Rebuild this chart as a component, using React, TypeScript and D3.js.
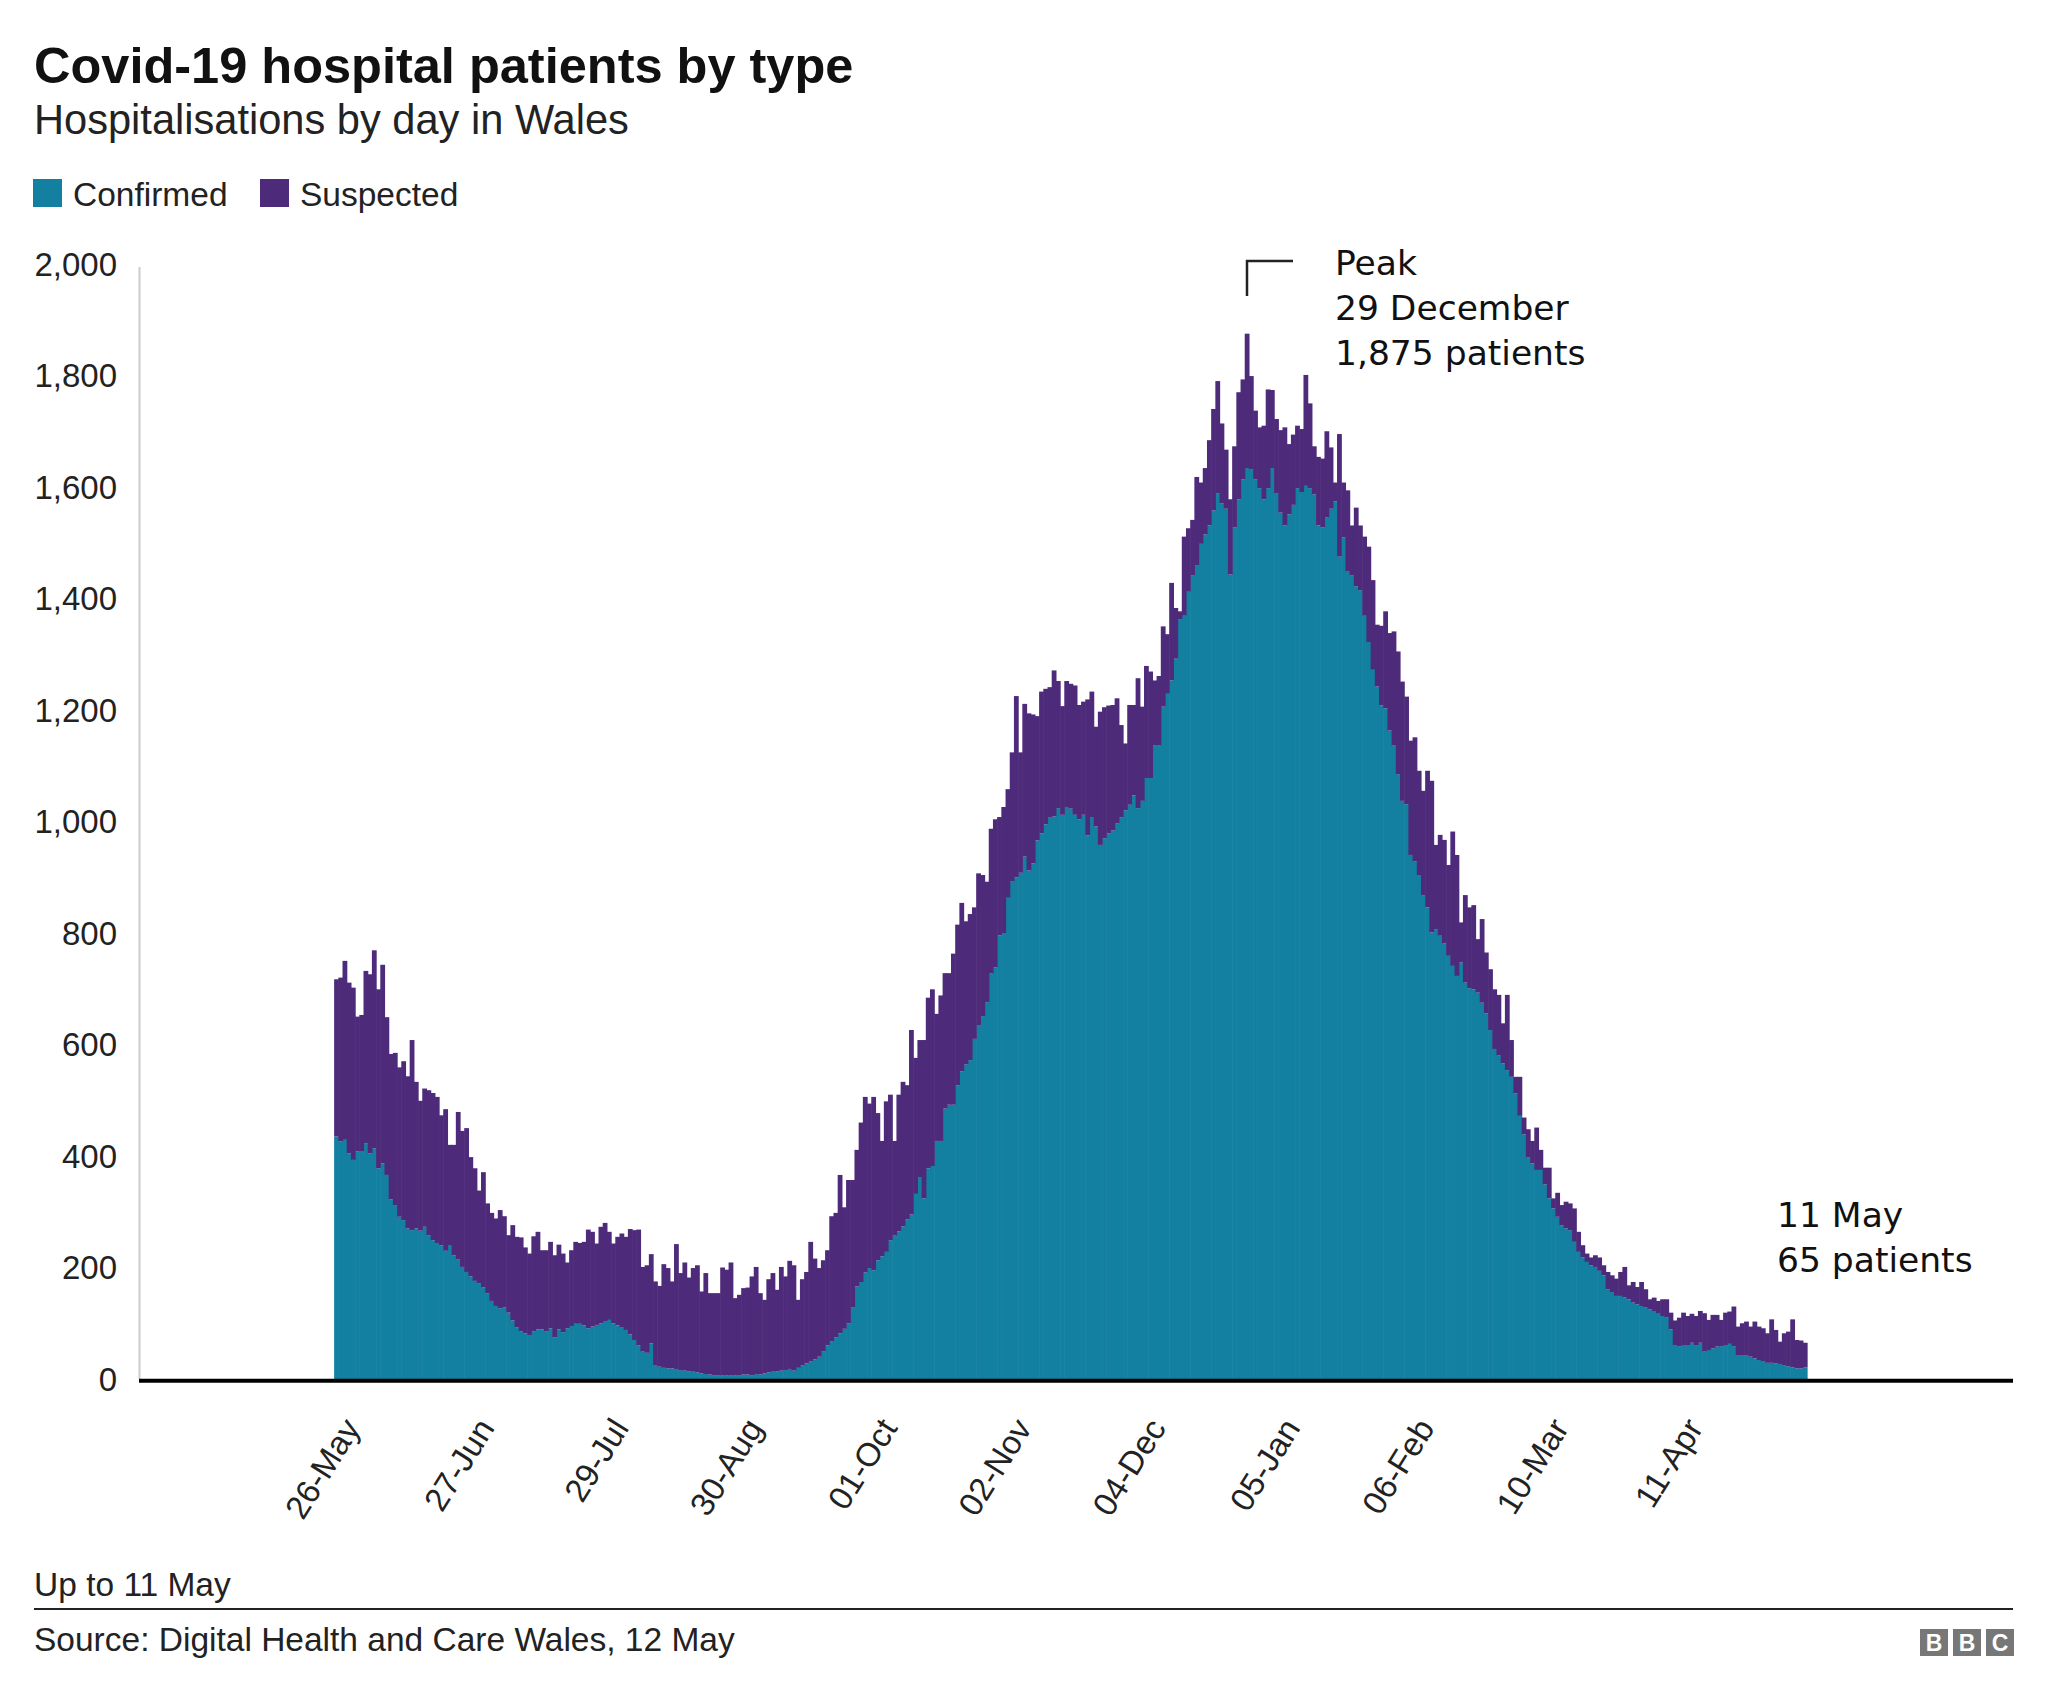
import React from 'react';
import * as d3 from 'd3';

// ---- DATA ----
const firstDay = new Date(2020, 4, 26); // 26 May 2020, one bar per day until 11 May 2021

const totalPatients: number[] = [
  717, 720, 750, 711, 702, 650, 653, 732, 726, 769,
  699, 743, 649, 583, 585, 559, 570, 543, 608, 533,
  499, 521, 518, 513, 506, 473, 484, 420, 420, 479,
  445, 450, 398, 378, 338, 371, 315, 298, 288, 303,
  292, 258, 276, 255, 254, 236, 225, 256, 264, 231,
  231, 246, 222, 241, 225, 209, 231, 246, 244, 246,
  268,
  264, 243, 273, 280, 264, 243, 255, 261, 255, 269,
  267, 268, 201, 204, 224, 175, 167, 206, 199, 175,
  242, 190, 209, 182, 199, 204, 157, 190, 154, 154,
  154, 200, 196, 209, 145, 151, 163, 164, 184, 201,
  154, 142, 179, 190, 160, 201, 184, 212, 204, 142,
  179, 192, 246, 216, 199, 213, 231, 292, 298, 366,
  308, 357,
  357, 411, 460, 506,
  494, 506, 477, 427, 498, 510, 427, 510, 533, 527,
  626, 576, 608, 608, 684, 699, 655, 688, 728, 728,
  763, 815, 854, 821, 834, 846, 907, 904, 892, 987,
  1004, 1008, 1026, 1058, 1124, 1225, 1124, 1211, 1194, 1192,
  1189, 1233, 1238, 1241, 1271, 1252, 1207, 1252, 1247, 1244,
  1209, 1215, 1219, 1233, 1170, 1197, 1205, 1208,
  1209, 1221, 1173, 1140, 1209, 1209, 1257, 1206, 1279, 1269,
  1253, 1261, 1350, 1336, 1428, 1383, 1377, 1511, 1526, 1541,
  1618, 1608, 1634, 1684, 1740, 1790, 1714, 1667, 1578, 1673,
  1770, 1793, 1875, 1799, 1737, 1707, 1710, 1775, 1774, 1722,
  1702, 1707, 1677, 1694, 1710, 1704, 1801, 1750, 1673, 1654,
  1651, 1700, 1671, 1608, 1695, 1608, 1594, 1531, 1563, 1531,
  1511, 1493,
  1433, 1353, 1351, 1377, 1338, 1341, 1305, 1251, 1224, 1145,
  1151, 1091, 1055, 1091, 1073, 958, 976, 967, 922, 982,
  940, 819, 868, 846, 850, 789, 825, 765, 735, 699,
  689, 638, 689, 608, 542, 542, 469, 448, 427, 451,
  411, 379, 379, 324, 334, 312, 318, 315, 306, 264,
  240, 225, 218, 222, 218, 204, 192, 186, 180, 192,
  201, 168, 174, 165, 174, 161, 143, 146, 140, 143,
  143, 119, 105, 110, 119, 113, 117, 113, 122,
  118, 106, 115, 115, 106, 119, 121, 130, 94, 100,
  103, 94, 103, 94, 91, 82, 107, 88, 67, 82,
  85, 107, 70, 69, 65,
];

const confirmedPatients: number[] = [
  435, 426, 429, 405, 393, 408, 409, 423, 405, 414,
  378, 387, 366, 322, 312, 291, 285, 270, 267, 270,
  266, 273, 258, 249, 244, 240, 230, 239, 222, 215,
  201, 192, 184, 176, 172, 164, 154, 140, 131, 127,
  128, 119, 105, 93, 85, 82, 79, 85, 89, 89,
  85, 91, 75, 89, 84, 91, 95, 99, 99, 96,
  91,
  94, 97, 100, 104, 106, 100, 96, 92, 88, 80,
  70, 60, 49, 47, 64, 25, 22, 20, 19, 19,
  18, 16, 15, 14, 13, 12, 10, 9, 8, 7,
  7, 6, 6, 7, 6, 7, 8, 8, 7, 9,
  8, 10, 12, 13, 14, 15, 16, 18, 15, 20,
  24, 28, 32, 35, 40, 50, 60, 67, 75, 82,
  90, 100,
  129, 166, 174, 191, 199, 195, 213, 220, 228, 249,
  257, 265, 274, 286, 295, 332, 361, 324, 378, 382,
  427, 427, 485, 492, 492, 527, 552, 564, 572, 610,
  635, 651, 676, 727, 738, 796, 800, 863, 892, 900,
  908, 937, 912, 925, 966, 979, 995, 1008, 1009, 1024,
  1012, 1026, 1023, 1012, 1004, 1012, 975, 1008, 991, 958,
  970, 979,
  984, 997, 1007, 1020, 1030, 1047, 1024, 1037, 1078, 1078,
  1136, 1136, 1206, 1229, 1253, 1292, 1362, 1369, 1412, 1442,
  1460, 1498, 1515, 1531, 1558, 1588, 1571, 1561, 1443, 1528,
  1578, 1614, 1634, 1631, 1614, 1598, 1578, 1598, 1634, 1588,
  1554, 1531, 1551, 1568, 1598, 1591, 1602, 1598, 1587, 1531,
  1528, 1545, 1561, 1574, 1475, 1510, 1448, 1442, 1422, 1415,
  1369, 1322,
  1272, 1242, 1208, 1203, 1163, 1136, 1085, 1037, 1031, 940,
  928, 904, 868, 846, 801, 807, 795, 781, 759, 741,
  723, 747, 711, 701, 699, 693, 675, 656, 626, 592,
  580, 566, 554, 542, 512, 472, 439, 397, 387, 375,
  375, 349, 324, 306, 291, 276, 270, 267, 246, 228,
  218, 210, 204, 201, 194, 186, 161, 156, 149, 149,
  146, 143, 137, 134, 131, 129, 125, 122, 117, 113,
  110, 89, 61, 59, 61, 61, 65, 61, 65,
  49, 52, 55, 58, 59, 61, 63, 59, 43, 43,
  43, 40, 37, 34, 31, 29, 29, 28, 27, 25,
  23, 21, 19, 19, 21,
];

const tickLabels: string[] = [
  '26-May', '27-Jun', '29-Jul', '30-Aug', '01-Oct', '02-Nov',
  '04-Dec', '05-Jan', '06-Feb', '10-Mar', '11-Apr',
];
const yTicks: number[] = [0, 200, 400, 600, 800, 1000, 1200, 1400, 1600, 1800, 2000];

const seriesKeys = ['confirmed', 'suspected'];
const seriesLabels = ['Confirmed', 'Suspected'];
const seriesColors = ['#1380A1', '#4E2B7A'];

const peakNote = ['Peak', '29 December', '1,875 patients'];
const lastNote = ['11 May', '65 patients'];

// ---- CHART ----
const W = 2048;
const H = 1701;
const plotLeft = 139;
const plotRight = 2013;
const plotBottom = 1379;
const plotTop = 264;
const padBefore = 46.5; // empty days on the axis before the first bar
const padAfter = 49.1;  // empty days after the last bar

const fontMain = "'Liberation Sans', Arial, Helvetica, sans-serif";
const fontNote = "'DejaVu Sans', 'Open Sans', sans-serif";

export default function App() {
  const days = d3.timeDay.range(firstDay, d3.timeDay.offset(firstDay, totalPatients.length));
  const rows = days.map((d, i) => ({
    date: d,
    confirmed: Math.min(confirmedPatients[i], totalPatients[i]),
    suspected: totalPatients[i] - Math.min(confirmedPatients[i], totalPatients[i]),
  }));

  const x = d3
    .scaleTime()
    .domain([d3.timeHour.offset(firstDay, -padBefore * 24), d3.timeHour.offset(firstDay, (days.length + padAfter) * 24)])
    .range([plotLeft, plotRight]);
  const y = d3.scaleLinear().domain([0, 2000]).range([plotBottom, plotTop]);

  const stacked = d3.stack<any>().keys(seriesKeys)(rows);
  const barW = x(d3.timeDay.offset(firstDay, 1)) - x(firstDay);

  const fmt = d3.format(',');
  const labelFmt = d3.timeFormat('%d-%b');
  const tickDates = days.filter((_, i) => i % 32 === 0).filter((d) => tickLabels.includes(labelFmt(d)));

  return (
    <svg width={W} height={H} viewBox={`0 0 ${W} ${H}`} style={{ display: 'block', background: '#fff' }}>
      <style>{'body{margin:0}'}</style>
      <rect x={0} y={0} width={W} height={H} fill="#ffffff" />

      {/* Title */}
      <text x={34} y={83} fontFamily={fontMain} fontWeight="bold" fontSize={50.5} fill="#111111">
        Covid-19 hospital patients by type
      </text>
      <text x={34} y={134} fontFamily={fontMain} fontSize={41.6} fill="#222222">
        Hospitalisations by day in Wales
      </text>

      {/* Legend */}
      <g fontFamily={fontMain} fontSize={33.5} fill="#222222">
        <rect x={33} y={179} width={29} height={28} fill={seriesColors[0]} />
        <text x={73} y={206}>{seriesLabels[0]}</text>
        <rect x={260} y={179} width={29} height={28} fill={seriesColors[1]} />
        <text x={300} y={206}>{seriesLabels[1]}</text>
      </g>

      {/* Y axis */}
      <line x1={139.5} x2={139.5} y1={267} y2={plotBottom} stroke="#cccccc" strokeWidth={2} />
      <g fontFamily={fontMain} fontSize={33} fill="#222222" textAnchor="end">
        {yTicks.map((t) => (
          <text key={t} x={117} y={y(t)} dy="0.35em">
            {fmt(t)}
          </text>
        ))}
      </g>

      {/* Bars */}
      {stacked.map((layer, li) => (
        <g key={layer.key} fill={seriesColors[li]}>
          {layer.map((d, i) => {
            const x0 = x(rows[i].date);
            const top = y(d[1]);
            const h = y(d[0]) - top;
            if (h <= 0) return null;
            return <rect key={i} x={x0} y={top} width={barW + 0.6} height={h} />;
          })}
        </g>
      ))}

      {/* Baseline */}
      <line x1={plotLeft} x2={plotRight} y1={1380.7} y2={1380.7} stroke="#000000" strokeWidth={4} />

      {/* X labels */}
      <g fontFamily={fontMain} fontSize={33} fill="#222222" textAnchor="end">
        {tickDates.map((d, i) => {
          const ax = x(d) + barW / 2 + 25;
          const ay = 1428;
          return (
            <text key={i} x={ax} y={ay} transform={`rotate(-58, ${ax}, ${ay})`}>
              {tickLabels[i]}
            </text>
          );
        })}
      </g>

      {/* Annotations */}
      <path d="M1247,296 V261 H1293" fill="none" stroke="#222222" strokeWidth={2.5} />
      <g fontFamily={fontNote} fontSize={34.5} fill="#111111">
        {peakNote.map((t, i) => (
          <text key={i} x={1335} y={275 + i * 45}>
            {t}
          </text>
        ))}
        {lastNote.map((t, i) => (
          <text key={'l' + i} x={1777} y={1227 + i * 45}>
            {t}
          </text>
        ))}
      </g>

      {/* Footer */}
      <text x={34} y={1596} fontFamily={fontMain} fontSize={33.5} fill="#222222">
        Up to 11 May
      </text>
      <line x1={34} x2={2013} y1={1609} y2={1609} stroke="#222222" strokeWidth={2} />
      <text x={34} y={1651} fontFamily={fontMain} fontSize={33.5} fill="#222222">
        Source: Digital Health and Care Wales, 12 May
      </text>
      <g fontFamily={fontMain} fontWeight="bold" fontSize={23} fill="#ffffff" textAnchor="middle">
        {['B', 'B', 'C'].map((c, i) => (
          <g key={i}>
            <rect x={1920 + i * 33} y={1629} width={28} height={27} fill="#777777" />
            <text x={1934 + i * 33} y={1651}>{c}</text>
          </g>
        ))}
      </g>
    </svg>
  );
}
